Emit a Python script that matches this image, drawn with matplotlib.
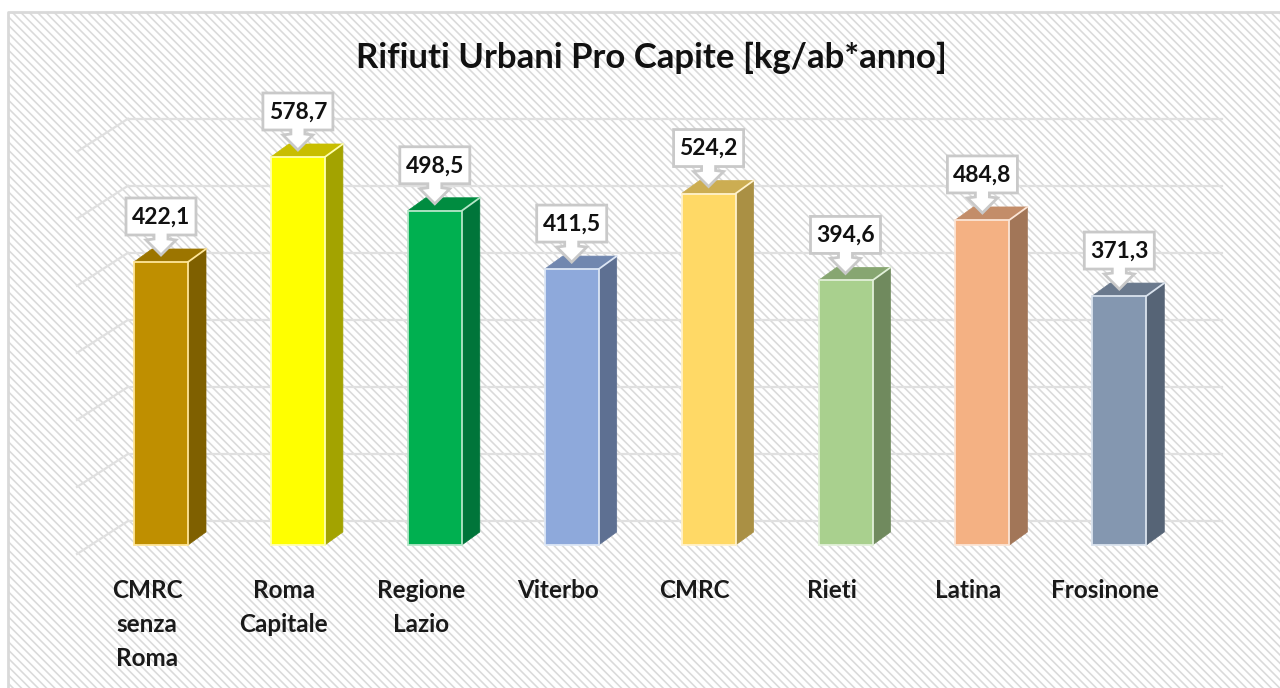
import matplotlib
matplotlib.use("Agg")
import matplotlib.pyplot as plt
from matplotlib.patches import Polygon, Rectangle

labels = ["CMRC\nsenza\nRoma", "Roma\nCapitale", "Regione\nLazio", "Viterbo", "CMRC", "Rieti", "Latina", "Frosinone"]
values = [422.1, 578.7, 498.5, 411.5, 524.2, 394.6, 484.8, 371.3]
value_labels = ["422,1", "578,7", "498,5", "411,5", "524,2", "394,6", "484,8", "371,3"]
front_colors = ["#BF8F00", "#FFFF00", "#00B050", "#8EA9DB", "#FFD966", "#A9D08E", "#F4B183", "#8497B0"]
side_colors = ["#7F6000", "#A3A300", "#00753A", "#5E7092", "#AA9044", "#708A5E", "#A27658", "#566476"]
top_colors = ["#9C7500", "#C8BE00", "#008C40", "#7187AF", "#CCAD52", "#87A671", "#C38D69", "#6A798D"]
edge_colors = ["#FFE699", "#FFFFB0", "#B5E6C8", "#DCE6F5", "#FFF2CC", "#E2F0D9", "#FBE5D6", "#DAE3EE"]
grid_values = [0, 100, 200, 300, 400, 500, 600]

# pixels per unit of the two scales
PX_X = 136.9
PX_Y = 0.6705
W = 1280
H = 688
X0 = 161
Y0 = 545
DX = 18
DY = 13
BAR_W = 54


def ox(px):
    return px / PX_X


def oy(px):
    return px / PX_Y


fig = plt.figure(figsize=(W / 100, H / 100), dpi=100, facecolor="white")
ax = fig.add_axes([0, 0, 1, 1])
ax.set_xlim(-X0 / PX_X, (W - X0) / PX_X)
ax.set_ylim(-(H - Y0) / PX_Y, Y0 / PX_Y)
ax.axis("off")
plt.rcParams["font.family"] = ["Lato", "DejaVu Sans"]
plt.rcParams["hatch.linewidth"] = 1.15
plt.rcParams["hatch.color"] = "#dadada"

# hatched chart area
x_left = ax.get_xlim()[0] + ox(8)
y_top = ax.get_ylim()[1] - oy(12)
ax.add_patch(Rectangle((x_left, ax.get_ylim()[0]), ox(W), y_top - ax.get_ylim()[0],
                       facecolor="white", hatch="\\" * 4, edgecolor="#dadada", linewidth=0, zorder=0))
ax.plot([x_left, x_left, ax.get_xlim()[1]], [ax.get_ylim()[0], y_top, y_top], color="#d9d9d9", lw=2, zorder=1)

# gridlines on the back wall and the floor
for g in grid_values:
    y_back = g + oy(24)
    ax.plot([ox(-33), ox(1061)], [y_back, y_back], color="#e0e0e0", lw=1.6, zorder=1)
    ax.plot([ox(-84), ox(-33)], [y_back - oy(33), y_back], color="#e0e0e0", lw=1.6, zorder=1)

# 3D bars
for i, v in enumerate(values):
    left = i - ox(BAR_W / 2)
    right = i + ox(BAR_W / 2)
    ax.bar(i, v, width=ox(BAR_W), color=front_colors[i], edgecolor=edge_colors[i], linewidth=1.3, zorder=3)
    ax.add_patch(Polygon([(right, 0), (right + ox(DX), oy(DY)), (right + ox(DX), v + oy(DY)), (right, v)],
                         facecolor=side_colors[i], edgecolor=side_colors[i], linewidth=0.5, zorder=2))
    ax.add_patch(Polygon([(left, v), (left + ox(DX), v + oy(DY)), (right + ox(DX), v + oy(DY)), (right, v)],
                         facecolor=top_colors[i], edgecolor=top_colors[i], linewidth=0.5, zorder=2))
    ax.plot([right, right + ox(DX)], [v, v + oy(DY)], color=edge_colors[i], lw=1.3, zorder=3)

    # value callout
    callout = [(-35, 27), (-35, 64), (35, 64), (35, 27), (7, 27), (7, 23), (15, 22), (0, 7), (-15, 22), (-7, 23), (-7, 27)]
    ax.add_patch(Polygon([(i + ox(a), v + oy(b)) for a, b in callout], facecolor="white",
                         edgecolor="#c9c9c9", linewidth=2, joinstyle="miter", zorder=4))
    ax.text(i, v + oy(45), value_labels[i], ha="center", va="center", fontsize=16.5,
            fontweight="bold", color="#111111", zorder=5)

    # category label
    ax.text(i - ox(14), -oy(34), labels[i], ha="center", va="top", fontsize=17.5, fontweight="bold",
            color="#1a1a1a", linespacing=1.58, zorder=5)

ax.text(ox(490), Y0 / PX_Y - oy(58), "Rifiuti Urbani Pro Capite [kg/ab*anno]", ha="center", va="center",
        fontsize=25, fontweight="bold", color="#111111", zorder=5)

fig.savefig("out.png", dpi=100, facecolor="white")
